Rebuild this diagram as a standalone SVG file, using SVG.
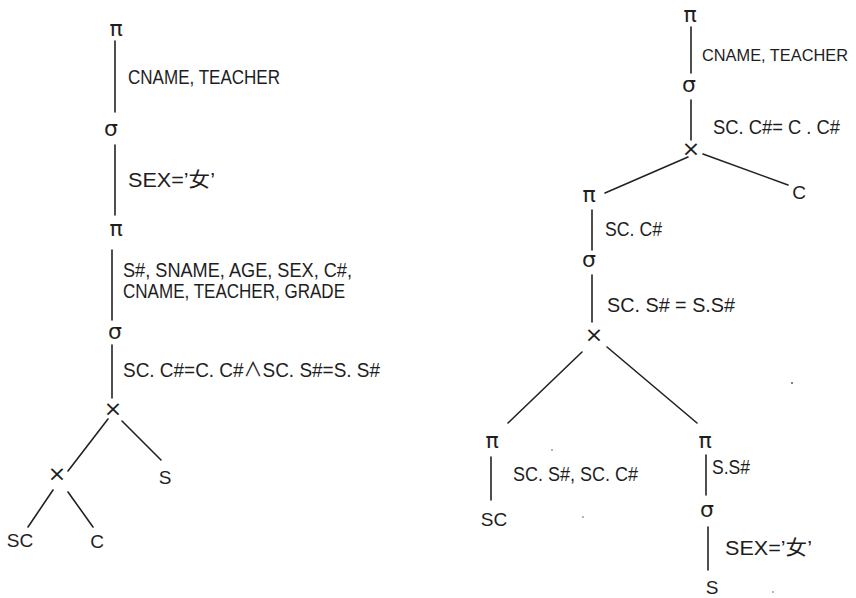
<svg xmlns="http://www.w3.org/2000/svg" width="856" height="598" viewBox="0 0 856 598">
<style>
.bg{fill:#fff}
.e{stroke:#222;stroke-width:1.6;fill:none;stroke-linecap:round}
.t{font-family:"Liberation Sans","Noto Sans CJK SC",sans-serif;font-size:20px;fill:#1e1e1e}
.n{font-family:"Liberation Sans","Noto Sans CJK SC",sans-serif;font-size:19px;fill:#1e1e1e;text-anchor:middle}
.op{font-family:"DejaVu Sans","Liberation Sans",sans-serif;font-size:22px;fill:#1e1e1e;text-anchor:middle}
.dot{fill:#555}
</style>
<rect class="bg" x="0" y="0" width="856" height="598"/>
<g id="connectors">
<line class="e" x1="115" y1="41" x2="115" y2="112"/>
<line class="e" x1="115" y1="145" x2="115" y2="215"/>
<line class="e" x1="112" y1="250" x2="112" y2="320"/>
<line class="e" x1="112" y1="345" x2="112" y2="398"/>
<line class="e" x1="108" y1="419" x2="68" y2="471"/>
<line class="e" x1="122" y1="421" x2="161" y2="460"/>
<line class="e" x1="53" y1="490" x2="28" y2="527"/>
<line class="e" x1="68" y1="492" x2="93" y2="527"/>
<line class="e" x1="691" y1="27" x2="691" y2="73"/>
<line class="e" x1="691" y1="100" x2="691" y2="140"/>
<line class="e" x1="688" y1="157" x2="605" y2="193"/>
<line class="e" x1="703" y1="154" x2="788" y2="185"/>
<line class="e" x1="592" y1="210" x2="592" y2="250"/>
<line class="e" x1="592" y1="275" x2="592" y2="322"/>
<line class="e" x1="582" y1="352" x2="508" y2="423"/>
<line class="e" x1="607" y1="347" x2="697" y2="423"/>
<line class="e" x1="491" y1="457" x2="491" y2="500"/>
<line class="e" x1="706" y1="455" x2="706" y2="495"/>
<line class="e" x1="708" y1="527" x2="708" y2="570"/>
</g>
<g id="labels">
<text class="t" x="128" y="84" textLength="152" lengthAdjust="spacingAndGlyphs">CNAME, TEACHER</text>
<text class="t" x="128" y="187" textLength="87" lengthAdjust="spacingAndGlyphs">SEX=’女’</text>
<text class="t" x="123" y="277" textLength="229" lengthAdjust="spacingAndGlyphs">S#, SNAME, AGE, SEX, C#,</text>
<text class="t" x="123" y="298" textLength="222" lengthAdjust="spacingAndGlyphs">CNAME, TEACHER, GRADE</text>
<text class="t" x="123" y="377" textLength="257" lengthAdjust="spacingAndGlyphs">SC. C#=C. C#∧SC. S#=S. S#</text>
<text class="t" x="702" y="61" style="font-size:17px" textLength="146" lengthAdjust="spacingAndGlyphs">CNAME, TEACHER</text>
<text class="t" x="713" y="134" textLength="127" lengthAdjust="spacingAndGlyphs">SC. C#= C . C#</text>
<text class="t" x="605" y="236" textLength="57" lengthAdjust="spacingAndGlyphs">SC. C#</text>
<text class="t" x="607" y="312" textLength="128" lengthAdjust="spacingAndGlyphs">SC. S# = S.S#</text>
<text class="t" x="513" y="481" textLength="125" lengthAdjust="spacingAndGlyphs">SC. S#, SC. C#</text>
<text class="t" x="712" y="474" textLength="38" lengthAdjust="spacingAndGlyphs">S.S#</text>
<text class="t" x="725" y="555" textLength="87" lengthAdjust="spacingAndGlyphs">SEX=’女’</text>
</g>
<g id="L-pi1"><text class="op" x="116" y="36">π</text></g>
<g id="L-sigma1"><text class="op" x="111" y="136">σ</text></g>
<g id="L-pi2"><text class="op" x="116" y="236">π</text></g>
<g id="L-sigma2"><text class="op" x="115" y="339">σ</text></g>
<g id="L-x1"><text class="op" x="113" y="416">×</text></g>
<g id="L-x2"><text class="op" x="57" y="481">×</text></g>
<g id="L-S"><text class="n" x="165" y="484">S</text></g>
<g id="L-SC"><text class="n" x="20" y="547">SC</text></g>
<g id="L-C"><text class="n" x="97" y="548">C</text></g>
<g id="R-pi1"><text class="op" x="690" y="22">π</text></g>
<g id="R-sigma1"><text class="op" x="689" y="92">σ</text></g>
<g id="R-x1"><text class="op" x="691" y="156">×</text></g>
<g id="R-C"><text class="n" x="799" y="199">C</text></g>
<g id="R-pi2"><text class="op" x="589" y="202">π</text></g>
<g id="R-sigma2"><text class="op" x="589" y="267">σ</text></g>
<g id="R-x2"><text class="op" x="594" y="342">×</text></g>
<g id="R-pi3"><text class="op" x="492" y="448">π</text></g>
<g id="R-SC"><text class="n" x="494" y="526">SC</text></g>
<g id="R-pi4"><text class="op" x="705" y="448">π</text></g>
<g id="R-sigma3"><text class="op" x="707" y="517">σ</text></g>
<g id="R-S"><text class="n" x="712" y="594">S</text></g>
<g id="specks">
<circle class="dot" cx="792" cy="383" r="1"/>
<circle class="dot" cx="552" cy="450" r="0.8"/>
<circle class="dot" cx="583" cy="517" r="0.8"/>
<circle class="dot" cx="773" cy="592" r="0.8"/>
</g>
</svg>
